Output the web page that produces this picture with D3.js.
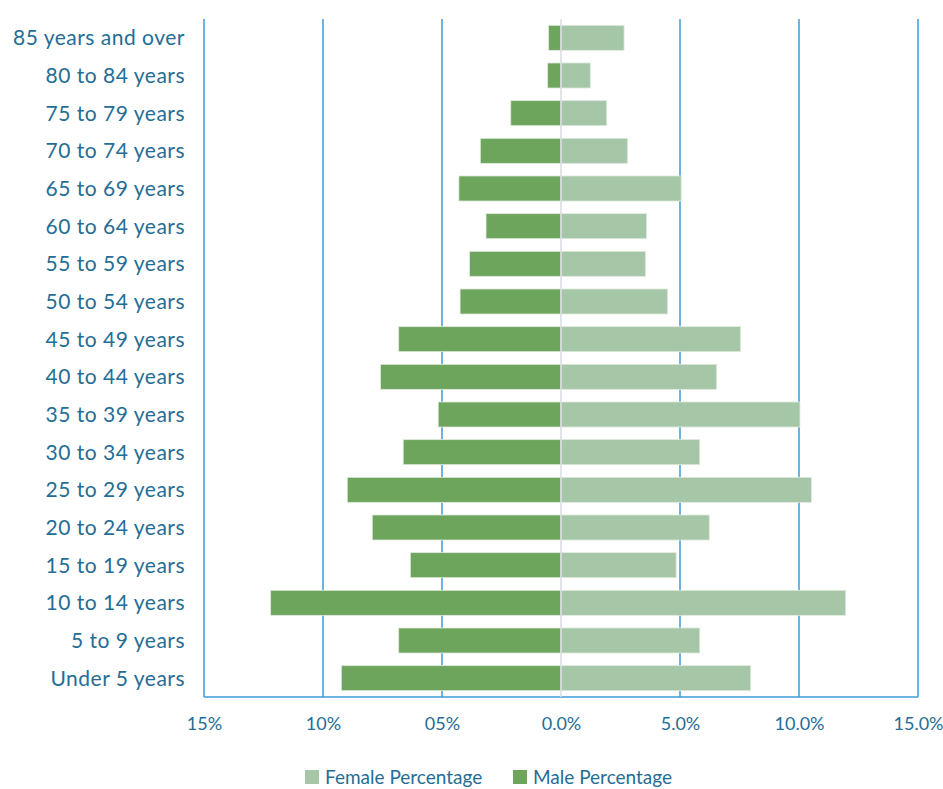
<!DOCTYPE html>
<html>
<head>
<meta charset="utf-8">
<script src="https://cdn.jsdelivr.net/npm/d3@7"></script>
<style>
  html, body { margin: 0; padding: 0; background: #ffffff; }
  svg { display: block; }
  text { font-family: Lato, "Open Sans", sans-serif; }
</style>
</head>
<body>
<svg id="chart" width="943" height="789"></svg>
<script>
// Age groups, top to bottom
const ageGroups = [
  "85 years and over", "80 to 84 years", "75 to 79 years", "70 to 74 years",
  "65 to 69 years", "60 to 64 years", "55 to 59 years", "50 to 54 years",
  "45 to 49 years", "40 to 44 years", "35 to 39 years", "30 to 34 years",
  "25 to 29 years", "20 to 24 years", "15 to 19 years", "10 to 14 years",
  "5 to 9 years", "Under 5 years"
];

// Share of population (%) by age group
const malePct = [0.52, 0.56, 2.11, 3.39, 4.29, 3.15, 3.84, 4.24, 6.82, 7.58,
                 5.16, 6.63, 8.98, 7.93, 6.33, 12.20, 6.82, 9.23];
const femalePct = [2.65, 1.23, 1.92, 2.80, 5.05, 3.59, 3.55, 4.48, 7.54, 6.54,
                   10.04, 5.83, 10.52, 6.23, 4.84, 11.96, 5.83, 7.97];

// Axis ticks and their printed labels
const tickValues = [-15, -10, -5, 0, 5, 10, 15];
const tickLabels = ["15%", "10%", "05%", "0.0%", "5.0%", "10.0%", "15.0%"];

const legendItems = ["Female Percentage", "Male Percentage"];

const colors = { male: "#6da55d", female: "#a6c6a8", grid: "#3c9bd9", text: "#256d95", zero: "#d9dbe1" };

const svg = d3.select("#chart");
const plot = { left: 204, right: 918, top: 19, bottom: 697 };

const x = d3.scaleLinear().domain([-15, 15]).range([plot.left, plot.right]);
const y = d3.scaleBand().domain(ageGroups).range([plot.top, plot.bottom])
  .paddingInner(0.336).paddingOuter(0.168);

// Vertical gridlines (the zero line is drawn separately in grey)
svg.append("g").selectAll("line")
  .data(tickValues.filter(v => v !== 0))
  .join("line")
  .attr("x1", d => x(d)).attr("x2", d => x(d))
  .attr("y1", plot.top).attr("y2", plot.bottom)
  .attr("stroke", colors.grid).attr("stroke-width", 1.5);

// Bottom baseline
svg.append("line")
  .attr("x1", plot.left).attr("x2", plot.right)
  .attr("y1", plot.bottom).attr("y2", plot.bottom)
  .attr("stroke", colors.grid).attr("stroke-width", 1.5);

const rows = ageGroups.map((g, i) => ({ g, m: malePct[i], f: femalePct[i] }));

// Male bars extend left of zero
svg.append("g").selectAll("rect")
  .data(rows).join("rect")
  .attr("x", d => x(-d.m))
  .attr("y", d => y(d.g))
  .attr("width", d => x(0) - x(-d.m))
  .attr("height", y.bandwidth())
  .attr("fill", colors.male)
  .attr("stroke", "#dfe9dc").attr("stroke-width", 0.8);

// Female bars extend right of zero
svg.append("g").selectAll("rect")
  .data(rows).join("rect")
  .attr("x", x(0))
  .attr("y", d => y(d.g))
  .attr("width", d => x(d.f) - x(0))
  .attr("height", y.bandwidth())
  .attr("fill", colors.female)
  .attr("stroke", "#dfe9dc").attr("stroke-width", 0.8);

// Zero line
svg.append("line")
  .attr("x1", x(0)).attr("x2", x(0))
  .attr("y1", plot.top).attr("y2", plot.bottom)
  .attr("stroke", colors.zero).attr("stroke-width", 1.5);

// Category labels
const yAxis = svg.append("g")
  .attr("transform", `translate(${plot.left - 19},0)`)
  .call(d3.axisLeft(y).tickSize(0).tickPadding(0));
yAxis.select(".domain").remove();
yAxis.selectAll("text")
  .attr("fill", colors.text)
  .style("font-size", "21px")
  .style("letter-spacing", "0.5px")
  .attr("dy", "0.36em");

// Percentage tick labels
const xAxis = svg.append("g")
  .attr("transform", `translate(0,${plot.bottom})`)
  .call(d3.axisBottom(x).tickValues(tickValues)
    .tickFormat((d, i) => tickLabels[i]).tickSize(0).tickPadding(20));
xAxis.select(".domain").remove();
xAxis.selectAll("text")
  .attr("fill", colors.text)
  .style("font-size", "18px");

// Legend
const legend = svg.append("g").attr("transform", "translate(305,777)");
const legendX = [0, 208];
const legendColors = [colors.female, colors.male];
legendItems.forEach((label, i) => {
  const g = legend.append("g").attr("transform", `translate(${legendX[i]},0)`);
  g.append("rect").attr("x", 0).attr("y", -7).attr("width", 14).attr("height", 14)
    .attr("fill", legendColors[i]);
  g.append("text").attr("x", 20).attr("y", 0).attr("dy", "0.35em")
    .attr("fill", colors.text).style("font-size", "19px").text(label);
});
</script>
</body>
</html>
